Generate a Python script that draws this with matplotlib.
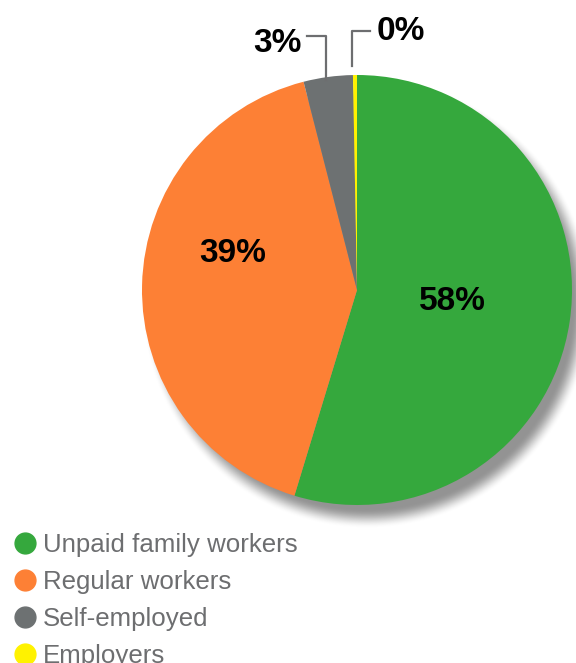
import matplotlib.pyplot as plt
import numpy as np
from matplotlib.lines import Line2D

# shares as drawn (wedge angles) and the printed labels
categories = ["Unpaid family workers", "Regular workers", "Self-employed", "Employers"]
shares = [54.7, 41.3, 3.7, 0.3]
pct_labels = ["58%", "39%", "3%", "0%"]
colors = ["#35a83d", "#fd8035", "#6d7172", "#fff200"]

W, H = 576, 663
fig = plt.figure(figsize=(W / 100, H / 100), dpi=100)
plt.rcParams['font.family'] = ['Liberation Sans', 'DejaVu Sans']


def fx(px):
    return px / W


def fy(py):
    return 1 - py / H


# pie axes: centre (357, 290) px, radius 215 px, with room for the shadow
cx, cy, r = 357, 290, 215
ax = fig.add_axes([fx(cx - r), fy(cy + 1.2 * r), 2.2 * r / W, 2.2 * r / H])
ax.axis('off')

# soft drop shadow, offset down and to the right
n = 800
g = np.linspace(-1.2, 1.2, n)
xx, yy = np.meshgrid(g, g)
d = np.hypot(xx - 0.045, yy + 0.065)
alpha = np.clip((1.0 - d) / 0.09 + 0.5, 0, 1)
alpha = alpha * alpha * (3 - 2 * alpha)
shadow = np.zeros((n, n, 4))
shadow[..., :3] = 0.58
shadow[..., 3] = alpha
ax.imshow(shadow, extent=(-1.2, 1.2, -1.2, 1.2), origin='lower', zorder=0,
          interpolation='bilinear')

wedges, _ = ax.pie(shares, colors=colors, startangle=90, counterclock=False,
                   radius=1.0, wedgeprops=dict(linewidth=0))
for w in wedges:
    w.set_zorder(2)
ax.set_xlim(-1, 1.2)
ax.set_ylim(-1.2, 1)

# percentage labels
fig.text(fx(452), fy(302), pct_labels[0], ha='center', va='center',
         fontsize=24, fontweight='bold', color='black')
fig.text(fx(233), fy(254), pct_labels[1], ha='center', va='center',
         fontsize=24, fontweight='bold', color='black')
fig.text(fx(277), fy(43), pct_labels[2], ha='center', va='center',
         fontsize=24, fontweight='bold', color='black')
fig.text(fx(401), fy(32), pct_labels[3], ha='center', va='center',
         fontsize=24, fontweight='bold', color='black')

# leader lines
lc = '#6d6e70'
fig.add_artist(Line2D([fx(307), fx(326), fx(326)], [fy(36), fy(36), fy(80)],
                      color=lc, lw=1.6, transform=fig.transFigure))
fig.add_artist(Line2D([fx(352), fx(352), fx(370)], [fy(66), fy(31), fy(31)],
                      color=lc, lw=1.6, transform=fig.transFigure))

# legend
handles = [Line2D([], [], marker='o', linestyle='none', markersize=15,
                  markerfacecolor=c, markeredgecolor=c) for c in colors]
leg = fig.legend(handles, categories, loc='upper left',
                 bbox_to_anchor=(fx(14), fy(533)), frameon=False,
                 fontsize=18.6, handlelength=0.82, handletextpad=0.3,
                 labelspacing=0.5, borderaxespad=0, borderpad=0)
for t in leg.get_texts():
    t.set_color('#6d6e70')

fig.savefig('out.png', dpi=100)
